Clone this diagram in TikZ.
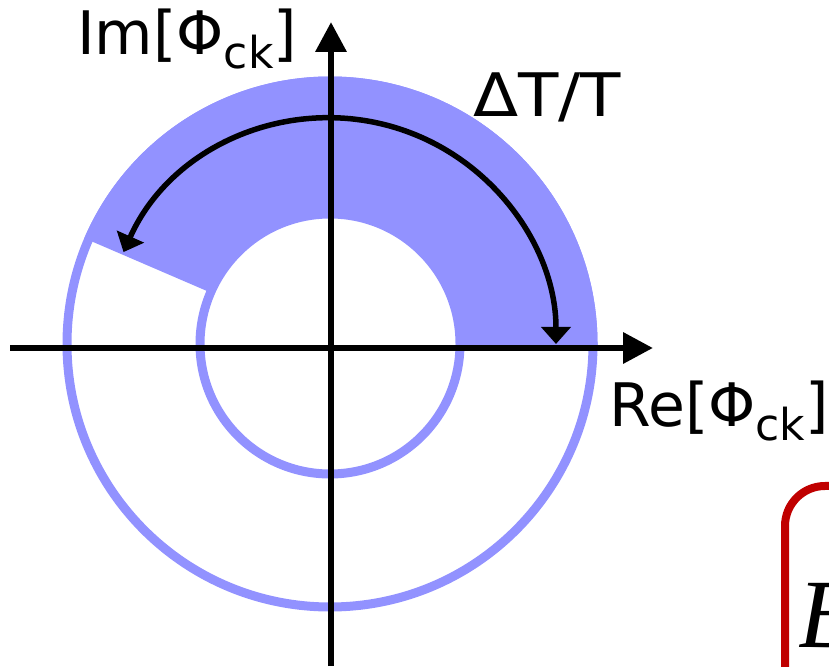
\documentclass[tikz,border=0pt]{standalone}
\usepackage{fontspec}
\setmainfont{DejaVu Sans}
\newfontfamily\widesans[FakeStretch=1.1]{DejaVu Sans}
\newfontfamily\serifit{Liberation Serif}
\usetikzlibrary{arrows.meta}
\definecolor{ringblue}{RGB}{146,146,255}
\definecolor{boxred}{RGB}{192,0,0}
\newcommand{\cksub}{\raisebox{-14pt}{\fontsize{44}{52}\selectfont ck}}
\begin{document}
\begin{tikzpicture}[x=1pt,y=1pt,
  lbl/.style={inner sep=0pt, anchor=base west, font=\fontsize{60}{72}\selectfont},
  axisline/.style={line width=6.5pt, -{Triangle[length=30pt,width=30pt]}},
  sweep/.style={line width=5.5pt, {Triangle[length=17pt,width=29pt]}-{Triangle[length=17pt,width=29pt]}}]
\useasboundingbox (0,0) rectangle (829,666);
\clip (0,0) rectangle (829,666);
\coordinate (C) at (330,322);
\fill[ringblue] ([shift={(C)}]-1:267.5) arc[start angle=-1,end angle=156.7,radius=267.5]
  -- ([shift={(C)}]156.7:130) arc[start angle=156.7,end angle=-1,radius=130] -- cycle;
\draw[ringblue, line width=9pt] (C) circle[radius=263];
\draw[ringblue, line width=9pt] (C) circle[radius=130];
\coordinate (xs) at (10,318);
\coordinate (xe) at (653,318);
\coordinate (ys) at (331,0);
\coordinate (ye) at (331,644);
\draw[axisline] (xs) -- (xe);
\draw[axisline] (ys) -- (ye);
\draw[sweep] ([shift={(C)}]156:226) arc[start angle=156,end angle=0,radius=226];
\node[lbl] (im) at (77,611) {Im[Φ\cksub]};
\node[lbl, font=\widesans\fontsize{60}{72}\selectfont] (dt) at (473,549) {ΔT/T};
\node[lbl] (re) at (609,239) {Re[Φ\cksub]};
\draw[boxred, line width=8pt, rounded corners=40pt] (785,-200) rectangle (1200,180);
\node[inner sep=0pt, anchor=base west, font=\serifit\itshape\fontsize{98}{110}\selectfont] (B) at (798,19) {B};
\end{tikzpicture}
\end{document}
